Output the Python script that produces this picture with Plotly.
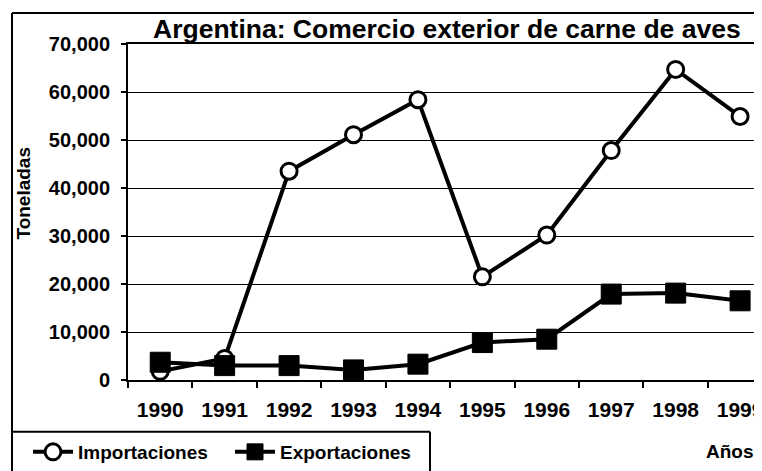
import plotly.graph_objects as go

years = ["1990", "1991", "1992", "1993", "1994", "1995", "1996", "1997", "1998", "1999"]
importaciones = [1800, 4500, 43500, 51100, 58400, 21500, 30200, 47800, 64700, 54900]
exportaciones = [3700, 3000, 3000, 2100, 3300, 7800, 8500, 17900, 18100, 16500]
y_ticks = [0, 10000, 20000, 30000, 40000, 50000, 60000, 70000]

# the page body has an 8px margin, so the figure is placed at (8, 8) on screen
OFF = 8
SW, SH = 762, 471
W, H = SW - OFF, SH - OFF
# plot area in screen pixels
PL, PT, PB = 128, 44, 381
L = PL - OFF
T = PT - OFF
B = H - (PB - OFF)
R = 0
FONT = "Liberation Sans, Arial, sans-serif"

fig = go.Figure()
fig.add_trace(go.Scatter(
    x=years, y=importaciones, name="Importaciones", mode="lines+markers",
    line=dict(color="black", width=4),
    marker=dict(symbol="circle", size=16, color="white", line=dict(color="black", width=3)),
))
fig.add_trace(go.Scatter(
    x=years, y=exportaciones, name="Exportaciones", mode="lines+markers",
    line=dict(color="black", width=4),
    marker=dict(symbol="square", size=20, color="black", line=dict(color="black", width=1)),
))

pw = W - L - R
ph = H - T - B

def px_x(s):
    # screen x -> paper fraction
    return (s - OFF - L) / pw

def px_y(s):
    # screen y -> paper fraction
    return (H - B - (s - OFF)) / ph

fig.update_layout(
    width=W, height=H,
    margin=dict(l=L, r=R, t=T, b=B, pad=0),
    paper_bgcolor="white", plot_bgcolor="white",
    font=dict(family=FONT, color="black", size=19),
    showlegend=True,
    legend=dict(
        orientation="h", x=px_x(28), y=px_y(453), xanchor="left", yanchor="middle",
        font=dict(family=FONT, size=19, color="black", weight="bold"),
        bgcolor="rgba(0,0,0,0)", borderwidth=0, itemwidth=40,
        entrywidth=147, entrywidthmode="pixels", tracegroupgap=0,
    ),
    xaxis=dict(
        type="category", range=[-0.5, 9.34],
        showline=True, linecolor="black", linewidth=2, mirror=True,
        ticks="outside", tickson="boundaries", ticklen=6, tickwidth=2, tickcolor="black",
        showgrid=False, zeroline=False,
        tickfont=dict(family=FONT, size=21, color="black", weight="bold"),
        ticklabelstandoff=10,
    ),
    yaxis=dict(
        range=[0, 70000], tickvals=y_ticks, tickformat=",d",
        showline=True, linecolor="black", linewidth=2,
        ticks="outside", ticklen=5, tickwidth=2, tickcolor="black",
        showgrid=True, gridcolor="black", gridwidth=1.3, zeroline=False,
        tickfont=dict(family=FONT, size=20, color="black", weight="bold"),
        ticklabelstandoff=7,
    ),
)

fig.add_annotation(
    text="Argentina: Comercio exterior de carne de aves",
    xref="paper", yref="paper", x=px_x(447), y=px_y(29),
    xanchor="center", yanchor="middle", showarrow=False,
    font=dict(family=FONT, size=26.5, color="black", weight="bold"),
)
fig.add_annotation(
    text="Toneladas", textangle=-90,
    xref="paper", yref="paper", x=px_x(24), y=px_y(194),
    xanchor="center", yanchor="middle", showarrow=False,
    font=dict(family=FONT, size=19, color="black", weight="bold"),
)
fig.add_annotation(
    text="Años",
    xref="paper", yref="paper", x=px_x(730), y=px_y(453),
    xanchor="center", yanchor="middle", showarrow=False,
    font=dict(family=FONT, size=19, color="black", weight="bold"),
)

# outer frame and legend box lines (screen pixels)
frame = [
    (12, 13, 770, 13),
    (12, 13, 12, 480),
    (12, 433, 430, 433),
    (430, 433, 430, 480),
]
for x0, y0, x1, y1 in frame:
    fig.add_shape(type="line", xref="paper", yref="paper",
                  x0=px_x(x0), y0=px_y(y0), x1=px_x(x1), y1=px_y(y1),
                  line=dict(color="black", width=2))

fig.write_html("out.html")
